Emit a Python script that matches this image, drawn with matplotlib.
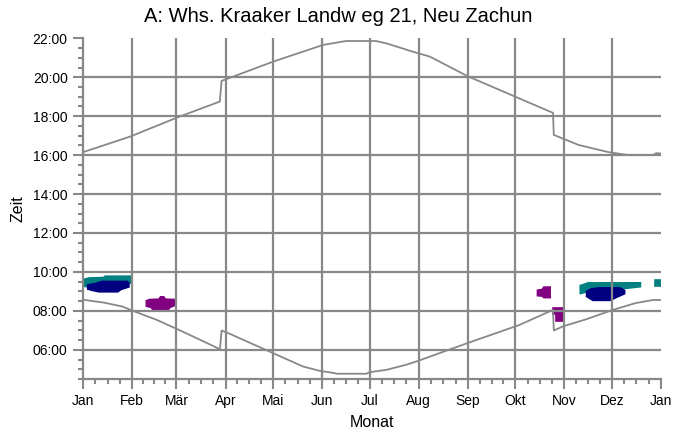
import matplotlib
matplotlib.use('Agg')
import matplotlib.pyplot as plt
import numpy as np

plt.rcParams['font.family'] = ['Liberation Sans', 'DejaVu Sans']

# month axis (day of year)
month_starts = [0, 31, 59, 90, 120, 151, 181, 212, 243, 273, 304, 334, 365]
month_labels = ['Jan', 'Feb', 'Mär', 'Apr', 'Mai', 'Jun', 'Jul', 'Aug', 'Sep', 'Okt', 'Nov', 'Dez', 'Jan']

# time axis
hour_ticks = [6, 8, 10, 12, 14, 16, 18, 20, 22]
hour_labels = ['06:00', '08:00', '10:00', '12:00', '14:00', '16:00', '18:00', '20:00', '22:00']

# sunrise (lower gray line)
rise_day = [0, 12.8, 25, 31.5, 46.5, 59, 71.7, 86.5, 87.5, 92.7, 120, 128.5, 139, 149.5, 159, 160,
            179, 181, 191.6, 204, 210.5, 243, 275.7, 296.8, 297.3, 303, 317.8, 334.6, 349, 360, 365]
rise_h = [8.57, 8.43, 8.22, 8.0, 7.54, 7.08, 6.60, 6.03, 6.99, 6.82, 5.83, 5.52, 5.14, 4.92, 4.80, 4.77,
          4.77, 4.85, 4.97, 5.23, 5.40, 6.35, 7.28, 8.05, 6.99, 7.20, 7.57, 8.05, 8.40, 8.56, 8.56]

# sunset (upper gray line)
set_day = [0, 29.7, 61, 86.4, 87.5, 120, 151.6, 166, 185, 191.6, 208.4, 219, 243, 273, 296.8, 297.3,
           313, 332, 344.6, 360, 362, 365]
set_h = [16.15, 16.95, 17.98, 18.75, 19.81, 20.80, 21.66, 21.86, 21.86, 21.74, 21.31, 21.06, 20.05, 19.0,
         18.17, 17.04, 16.52, 16.15, 16.0, 16.0, 16.1, 16.08]

# shadow periods (outline points: day, hour)
teal_jan_d = [1, 1, 4, 13, 14, 30, 31, 31, 20, 5]
teal_jan_h = [9.26, 9.63, 9.69, 9.71, 9.78, 9.78, 9.73, 9.44, 9.30, 9.20]
navy_jan_d = [3, 3, 8, 12, 28, 29, 29, 24, 22, 10, 6]
navy_jan_h = [9.12, 9.33, 9.41, 9.51, 9.51, 9.43, 9.23, 9.10, 8.98, 8.98, 9.05]
purple_feb_d = [40, 40, 42, 48, 49, 51, 52, 58, 58, 55, 54, 44, 43]
purple_feb_h = [8.24, 8.52, 8.58, 8.60, 8.72, 8.72, 8.60, 8.58, 8.28, 8.18, 8.08, 8.08, 8.18]
purple_oct_d = [287, 287, 290, 291, 295, 295, 291, 290]
purple_oct_h = [8.78, 9.06, 9.10, 9.22, 9.22, 8.68, 8.68, 8.76]
purple_nov_d = [297, 304, 304, 298.5, 298.5, 297]
purple_nov_h = [8.16, 8.16, 7.50, 7.50, 7.84, 7.84]
teal_dec_d = [314, 314, 317, 319, 352, 352, 343, 326, 318]
teal_dec_h = [8.88, 9.30, 9.38, 9.44, 9.44, 9.24, 9.16, 9.08, 8.98]
navy_dec_d = [318, 318, 321, 326, 339, 342, 342, 337, 333, 322]
navy_dec_h = [8.74, 9.0, 9.13, 9.18, 9.18, 9.05, 8.88, 8.70, 8.54, 8.54]
teal_end_d = [361.5, 361.5, 365, 365]
teal_end_h = [9.26, 9.56, 9.56, 9.26]

teal = '#008080'
navy = '#000080'
purple = '#800080'
gray = '#888888'

fig = plt.figure(figsize=(6.77, 4.32), dpi=100)
ax = fig.add_axes([83/677, 1 - 379/432, (661 - 83)/677, (379 - 38.3)/432])

patches = [(teal_jan_d, teal_jan_h, teal, 2), (navy_jan_d, navy_jan_h, navy, 3),
           (purple_feb_d, purple_feb_h, purple, 2), (purple_oct_d, purple_oct_h, purple, 2),
           (purple_nov_d, purple_nov_h, purple, 2), (teal_dec_d, teal_dec_h, teal, 2),
           (navy_dec_d, navy_dec_h, navy, 3), (teal_end_d, teal_end_h, teal, 2)]
for d, h, c, z in patches:
    ax.fill(d, h, facecolor=c, edgecolor=c, lw=1.2, zorder=z)

# grid on top of the shadow patches
for h in hour_ticks[:-1]:
    ax.axhline(h, color=gray, lw=1.6, zorder=4)
for d in month_starts[1:-1]:
    ax.axvline(d, color=gray, lw=1.6, zorder=4)

ax.plot(rise_day, rise_h, color=gray, lw=1.3, zorder=5)
ax.plot(set_day, set_h, color=gray, lw=1.3, zorder=5)

ax.set_xlim(0, 365)
ax.set_ylim(4.5, 22)

minor_x = []
for i in range(12):
    a, b = month_starts[i], month_starts[i + 1]
    minor_x += [a + (b - a) * k / 4 for k in (1, 2, 3)]
ax.set_xticks(month_starts)
ax.set_xticklabels(month_labels)
ax.set_xticks(minor_x, minor=True)
ax.set_yticks(hour_ticks)
ax.set_yticklabels(hour_labels)
ax.set_yticks(np.arange(4.5, 22, 0.5), minor=True)

ax.tick_params(which='major', length=7, width=1.5, color=gray, labelsize=10, pad=4)
ax.tick_params(which='minor', length=3.5, width=1.5, color=gray)

for s in ['top', 'right']:
    ax.spines[s].set_visible(False)
for s in ['left', 'bottom']:
    ax.spines[s].set_color(gray)
    ax.spines[s].set_linewidth(1.6)

ax.set_xlabel('Monat', fontsize=11.5, labelpad=-1)
ax.set_ylabel('Zeit', fontsize=11.5, labelpad=5)
ax.xaxis.set_label_coords(0.5, -0.105)
fig.text(0.5, 1 - 17/432, 'A: Whs. Kraaker Landw eg 21, Neu Zachun', ha='center', va='center', fontsize=14.5)

fig.savefig('out.png', dpi=100)
